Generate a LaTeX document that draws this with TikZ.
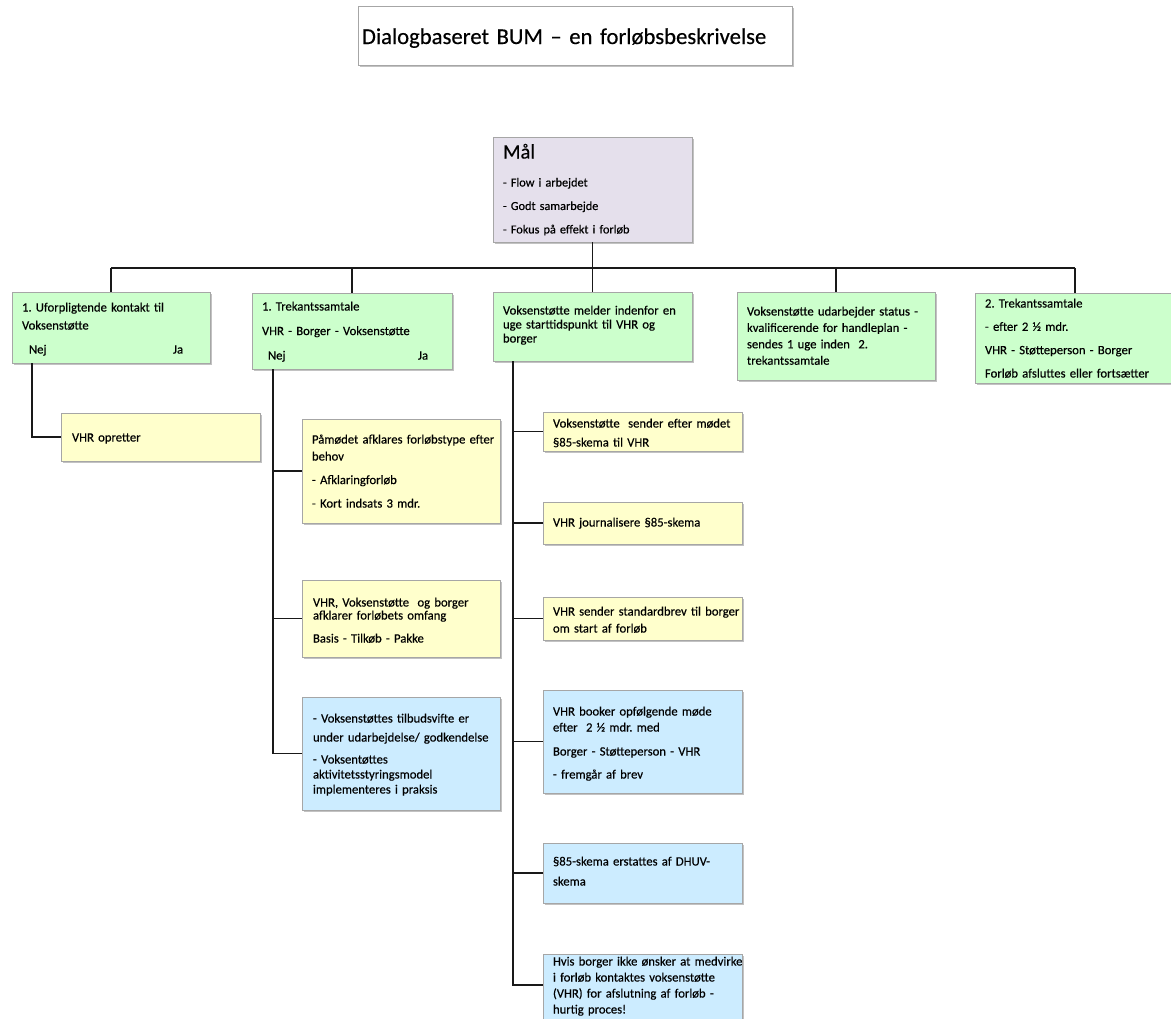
\documentclass[tikz,border=0pt]{standalone}
\usepackage{fontspec}
\setmainfont{Carlito}[FakeBold=0.4]
\frenchspacing
\usetikzlibrary{shadows,calc}
\definecolor{gfill}{HTML}{CCFFCC}
\definecolor{yfill}{HTML}{FFFFCC}
\definecolor{bfill}{HTML}{CCECFF}
\definecolor{lfill}{HTML}{E5E0EC}
\definecolor{edge}{HTML}{A6A6A6}

% box from corner (x1,y1) to corner (x2,y2), in pixel units
\newcommand\panel[6]{%
  \node[boxbase,#2,minimum width={(#5-#3)*0.75pt},minimum height={(#6-#4)*0.75pt}]
    (#1) at ({(#3+#5)/2},{(#4+#6)/2}) {};}

\begin{document}
\begin{tikzpicture}[x=0.75pt,y=-0.75pt,
  boxbase/.style={rectangle,draw=edge,line width=0.6pt,inner sep=0pt,outer sep=0pt,
    drop shadow={shadow xshift=1.6pt,shadow yshift=-1.8pt,fill=black!60,opacity=0.4}},
  boxG/.style={fill=gfill},
  boxY/.style={fill=yfill},
  boxB/.style={fill=bfill},
  boxL/.style={fill=lfill},
  boxW/.style={fill=white},
  conn/.style={draw=black!90,line width=1.4pt},
  txt/.style={anchor=base west,inner sep=0pt,outer sep=0pt,align=left,text width=240*0.75pt},
  fs/.style={font=\fontsize{9.5pt}{#1}\selectfont},
]
\path[use as bounding box] (0,0) rectangle (1171,1018);

% title
\panel{title}{boxW}{358}{6}{792}{65}
\node[txt,text width=430*0.75pt,font=\fontsize{17pt}{20pt}\selectfont] (titleT) at (362,44)
  {Dialogbaseret BUM – en forløbsbeskrivelse};

% goal box
\panel{mal}{boxL}{493}{137}{692}{242}
\node[txt,font=\fontsize{15.4pt}{18pt}\selectfont] (malT) at (503,158.5) {Mål};
\node[txt,font=\fontsize{9.2pt}{17.6pt}\selectfont] (malL) at (503,186.5)
  {- Flow i arbejdet\\- Godt samarbejde\\- Fokus på effekt i forløb};

% top row
\panel{b1}{boxG}{12}{292}{210}{363}
\panel{b2}{boxG}{252}{293}{452}{369}
\panel{b3}{boxG}{493}{292}{692}{361}
\panel{b4}{boxG}{737}{292}{935}{380}
\panel{b5}{boxG}{975}{293}{1175}{383}

\node[txt,fs=13.5pt] (b1T) at (22,311.5)
  {1. Uforpligtende kontakt til\\Voksenstøtte\\[4.5pt]\hspace*{5.25pt}\makebox[108pt][l]{Nej}Ja};
\node[txt,fs=18.4pt] (b2T) at (262,310.5)
  {1. Trekantssamtale\\VHR - Borger - Voksenstøtte\\\hspace*{4.5pt}\makebox[112.5pt][l]{Nej}Ja};
\node[txt,fs=10.5pt] (b3T) at (503,314.5)
  {Voksenstøtte melder indenfor en\\uge starttidspunkt til VHR og\\borger};
\node[txt,fs=12.3pt] (b4T) at (747,315.5)
  {Voksenstøtte udarbejder status -\\kvalificerende for handleplan -\\sendes 1 uge inden\ \ 2.\\trekantssamtale};
\node[txt,fs=17.5pt] (b5T) at (985,307.5)
  {2. Trekantssamtale\\- efter 2 ½ mdr.\\VHR - Støtteperson - Borger\\Forløb afsluttes eller fortsætter};

% left branch
\panel{v1}{boxY}{61}{413}{260}{461}
\node[txt,fs=12pt] (v1T) at (72,441.5) {VHR opretter};

% second branch
\panel{p1}{boxY}{302}{419}{500}{523}
\panel{p2}{boxY}{302}{580}{500}{657}
\panel{p3}{boxB}{302}{697}{500}{810}
\node[txt,fs=12.75pt] (p1T) at (312,443.5)
  {Påmødet afklares forløbstype efter\\behov\\[4.9pt]- Afklaringforløb\\[4.9pt]- Kort indsats 3 mdr.};
\node[txt,fs=9.75pt] (p2T) at (313,606.5)
  {VHR, Voksenstøtte\ \ og borger\\afklarer forløbets omfang\\[7.5pt]Basis - Tilkøb - Pakke};
\node[txt,fs=11.25pt] (p3T) at (313,722.5)
  {- Voksenstøttes tilbudsvifte er\\[3pt]under udarbejdelse/ godkendelse\\[5.25pt]- Voksentøttes\\aktivitetsstyringsmodel\\implementeres i praksis};

% middle branch
\panel{m1}{boxY}{543}{412}{742}{451}
\panel{m2}{boxY}{543}{502}{742}{544}
\panel{m3}{boxY}{543}{597}{742}{640}
\panel{m4}{boxB}{543}{690}{742}{793}
\panel{m5}{boxB}{543}{843}{742}{903}
\panel{m6}{boxB}{543}{954}{742}{1030}
\node[txt,fs=14.25pt] (m1T) at (553,427.5)
  {Voksenstøtte\ \ sender efter mødet\\§85-skema til VHR};
\node[txt,fs=12pt] (m2T) at (553,526.5) {VHR journalisere §85-skema};
\node[txt,fs=12.75pt] (m3T) at (553,615.5)
  {VHR sender standardbrev til borger\\om start af forløb};
\node[txt,fs=12pt] (m4T) at (553,715.5)
  {VHR booker opfølgende møde\\efter\ \ 2 ½ mdr. med\\[6pt]Borger - Støtteperson - VHR\\[5.25pt]- fremgår af brev};
\node[txt,fs=15pt] (m5T) at (553,865.5)
  {§85-skema erstattes af DHUV-\\skema};
\node[txt,fs=12pt] (m6T) at (553,965.5)
  {Hvis borger ikke ønsker at medvirke\\i forløb kontaktes voksenstøtte\\(VHR) for afslutning af forløb -\\hurtig proces!};

% connectors
\coordinate (bus) at (0,268);
\draw[conn] (mal.south) -- (mal.south |- bus);
\draw[conn] (b1.north |- bus) -- (b5.north |- bus);
\foreach \b in {b1,b2,b3,b4,b5}
  \draw[conn] (\b.north |- bus) -- (\b.north);

\coordinate (d1) at ($(b1.south west)+(20,0)$);
\coordinate (d2) at ($(b2.south west)+(21,0)$);
\coordinate (d3) at ($(b3.south west)+(20,0)$);
\coordinate (m6j) at ($(m6.north west)+(0,31)$);

\draw[conn] (d1) |- (v1.west);
\draw[conn] (d2) |- (p3.west);
\draw[conn] (d2 |- p1.west) -- (p1.west);
\draw[conn] (d2 |- p2.west) -- (p2.west);
\draw[conn] (d3) |- (m6j);
\foreach \m in {m1,m2,m3,m4,m5}
  \draw[conn] (d3 |- \m.west) -- (\m.west);
\end{tikzpicture}
\end{document}
